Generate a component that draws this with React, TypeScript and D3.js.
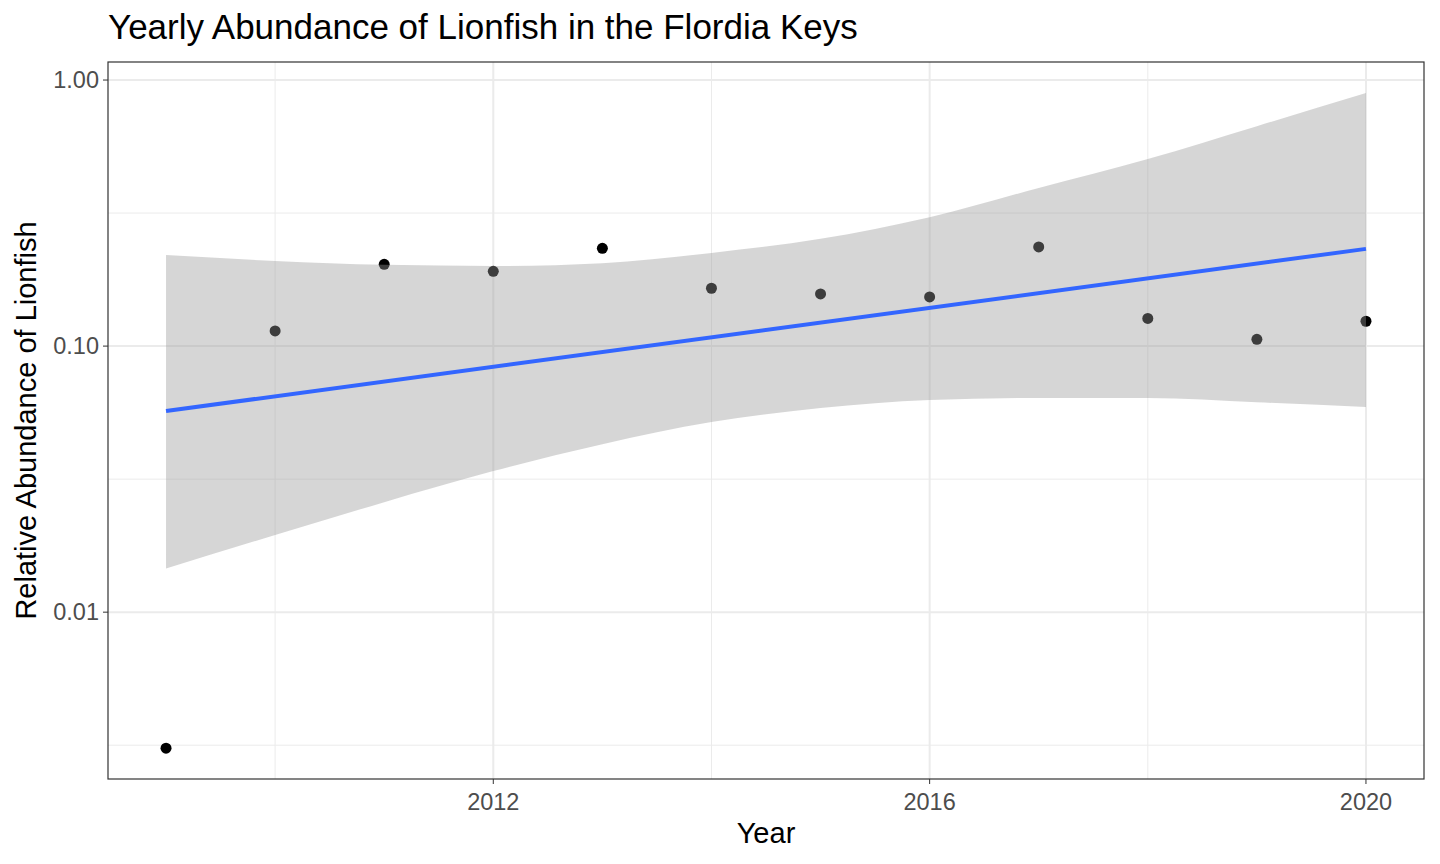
import * as d3 from "d3";

const years = [2009, 2010, 2011, 2012, 2013, 2014, 2015, 2016, 2017, 2018, 2019, 2020];
const abundance = [0.00308, 0.114, 0.203, 0.191, 0.233, 0.165, 0.157, 0.153, 0.236, 0.127, 0.106, 0.124];
const ribbonUpper = [0.22, 0.209, 0.202, 0.2, 0.205, 0.224, 0.253, 0.305, 0.393, 0.505, 0.671, 0.894];
const ribbonLower = [0.0146, 0.0195, 0.0259, 0.0339, 0.0428, 0.0518, 0.0585, 0.0627, 0.0638, 0.0638, 0.0615, 0.059];
const fitEnds = [0.057, 0.232];
const xTicks = [2012, 2016, 2020];
const xMinor = [2010, 2014, 2018];
const yTicks = [1, 0.1, 0.01];
const yTickLabels = ["1.00", "0.10", "0.01"];
const yMinor = [Math.pow(10, -0.5), Math.pow(10, -1.5), Math.pow(10, -2.5)];

const L = 108, R = 1424, T = 62, B = 779;
const FONT = "'Liberation Sans', Arial, sans-serif";

export default function App() {
  const x = d3.scaleLinear().domain([2008.468, 2020.532]).range([L, R]);
  const y = d3.scaleLog().domain([0.00236, 1.169]).range([B, T]);
  const area = d3
    .area<number>()
    .x((d) => x(d))
    .y0((_, i) => y(ribbonLower[i]))
    .y1((_, i) => y(ribbonUpper[i]))
    .curve(d3.curveMonotoneX);
  const grid = "#ebebeb";
  return (
    <svg width={1440} height={864} style={{ position: "absolute", left: 0, top: 0, fontFamily: FONT }}>
      <rect width={1440} height={864} fill="#fff" />
      {yMinor.map((v) => (
        <line key={v} x1={L} x2={R} y1={y(v)} y2={y(v)} stroke={grid} strokeWidth={1} />
      ))}
      {xMinor.map((v) => (
        <line key={v} x1={x(v)} x2={x(v)} y1={T} y2={B} stroke={grid} strokeWidth={1} />
      ))}
      {yTicks.map((v) => (
        <line key={v} x1={L} x2={R} y1={y(v)} y2={y(v)} stroke={grid} strokeWidth={2} />
      ))}
      {xTicks.map((v) => (
        <line key={v} x1={x(v)} x2={x(v)} y1={T} y2={B} stroke={grid} strokeWidth={2} />
      ))}
      {years.map((yr, i) => (
        <circle key={yr} cx={x(yr)} cy={y(abundance[i])} r={5.5} fill="#000" />
      ))}
      <path d={area(years) ?? ""} fill="#999999" fillOpacity={0.4} />
      <line
        x1={x(years[0])}
        x2={x(years[years.length - 1])}
        y1={y(fitEnds[0])}
        y2={y(fitEnds[1])}
        stroke="#3366FF"
        strokeWidth={4}
      />
      <rect x={L} y={T} width={R - L} height={B - T} fill="none" stroke="#333" strokeWidth={1.2} />
      {yTicks.map((v, i) => (
        <g key={v}>
          <line x1={L - 5} x2={L} y1={y(v)} y2={y(v)} stroke="#333" />
          <text x={L - 9} y={y(v)} dy="0.35em" textAnchor="end" fontSize={23.5} fill="#4d4d4d">
            {yTickLabels[i]}
          </text>
        </g>
      ))}
      {xTicks.map((v) => (
        <g key={v}>
          <line x1={x(v)} x2={x(v)} y1={B} y2={B + 5} stroke="#333" />
          <text x={x(v)} y={B + 31} textAnchor="middle" fontSize={23.5} fill="#4d4d4d">
            {v}
          </text>
        </g>
      ))}
      <text x={(L + R) / 2} y={843} textAnchor="middle" fontSize={29}>Year</text>
      <text transform={`translate(36,${(T + B) / 2}) rotate(-90)`} textAnchor="middle" fontSize={29}>
        Relative Abundance of Lionfish
      </text>
      <text x={L} y={39} fontSize={35}>Yearly Abundance of Lionfish in the Flordia Keys</text>
    </svg>
  );
}
